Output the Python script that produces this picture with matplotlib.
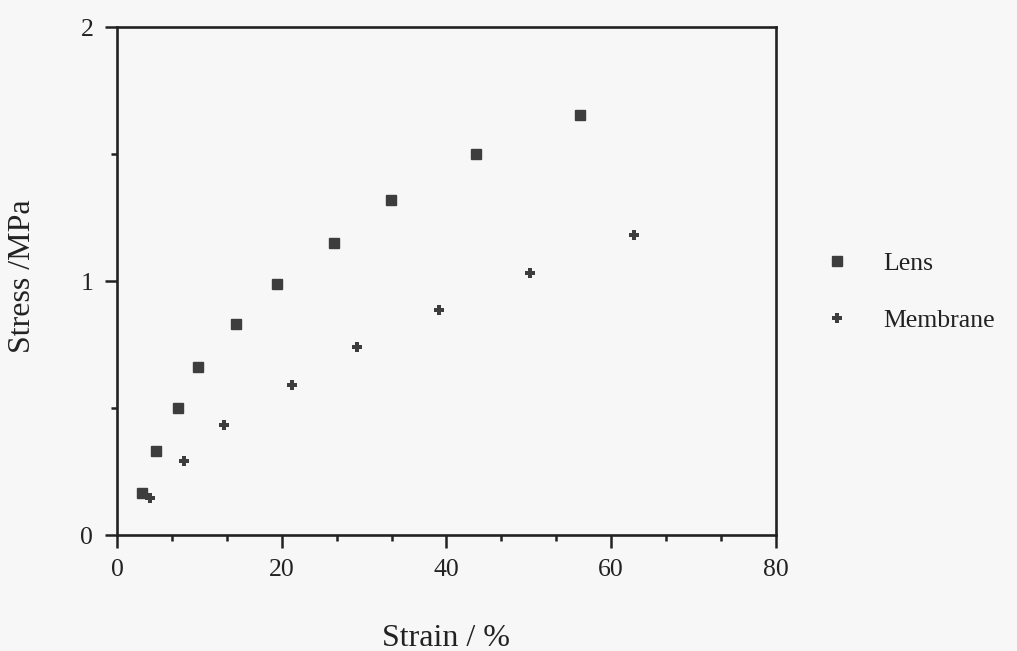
import matplotlib
matplotlib.use("Agg")
import matplotlib.pyplot as plt
from matplotlib.ticker import MultipleLocator

# values
lens_strain = [3.0, 4.8, 7.4, 9.8, 14.5, 19.4, 26.4, 33.3, 43.6, 56.2]
lens_stress = [0.165, 0.33, 0.50, 0.66, 0.83, 0.99, 1.15, 1.32, 1.50, 1.655]

membrane_strain = [4.0, 8.1, 13.0, 21.3, 29.2, 39.1, 50.2, 62.8]
membrane_stress = [0.145, 0.29, 0.435, 0.59, 0.74, 0.885, 1.03, 1.18]

x_ticks = [0, 20, 40, 60, 80]
y_ticks = [0, 1, 2]

plt.rcParams["font.family"] = ["Liberation Serif", "DejaVu Serif"]
ink = "#222222"

fig = plt.figure(figsize=(10.17, 6.51), dpi=100)
fig.patch.set_facecolor("#f7f7f7")
ax = fig.add_axes([0.115, 0.178, 0.648, 0.7805])
ax.set_facecolor("#f7f7f7")

ax.plot(lens_strain, lens_stress, linestyle="none", marker="s", markersize=6.5,
        color="#3d3d3d", label="Lens")
ax.plot(membrane_strain, membrane_stress, linestyle="none", marker="P", markersize=7.5,
        color="#3d3d3d", markeredgewidth=0, label="Membrane")

ax.set_xlim(0, 80)
ax.set_ylim(0, 2)
ax.set_xticks(x_ticks)
ax.set_yticks(y_ticks)
ax.xaxis.set_minor_locator(MultipleLocator(20 / 3))
ax.yaxis.set_minor_locator(MultipleLocator(0.5))

for side in ["left", "bottom", "top", "right"]:
    ax.spines[side].set_linewidth(1.9)
    ax.spines[side].set_color(ink)

ax.tick_params(which="major", direction="out", length=9, width=1.8, color=ink,
               labelsize=18.5, pad=8, labelcolor=ink)
ax.tick_params(which="minor", direction="out", length=4.5, width=1.8, color=ink)
ax.tick_params(top=False, right=False, which="both")

ax.set_xlabel("Strain / %", fontsize=23, color=ink)
ax.set_ylabel("Stress /MPa", fontsize=23, color=ink)
ax.xaxis.set_label_coords(0.5, -0.175)
ax.yaxis.set_label_coords(-0.121, 0.51)

fig.legend(loc="upper left", bbox_to_anchor=(0.788, 0.648), frameon=False,
           fontsize=18.5, handlelength=1.0, handletextpad=1.3, labelspacing=1.3,
           labelcolor=ink)

fig.savefig("out.png", dpi=100, facecolor=fig.get_facecolor())
